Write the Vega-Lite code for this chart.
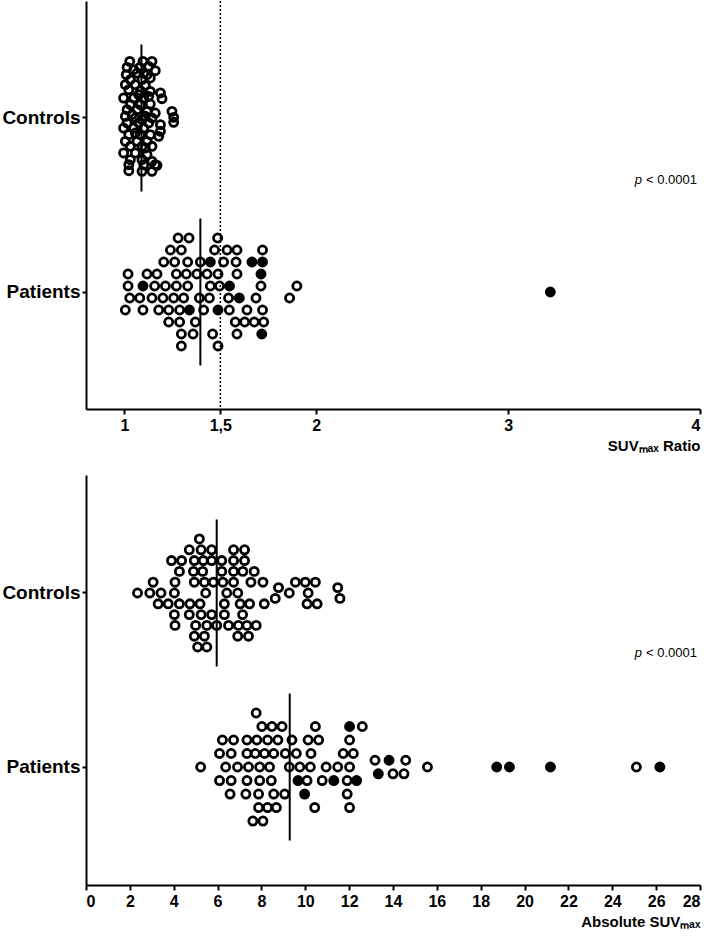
{
  "$schema": "https://vega.github.io/schema/vega-lite/v6.json",
  "background": "white",
  "padding": {"left": 0, "top": 0, "right": 8, "bottom": 0},
  "spacing": 22,
  "config": {
    "view": {"stroke": null},
    "font": "Liberation Sans",
    "axis": {"domainColor": "black", "domainWidth": 2, "tickColor": "black", "tickWidth": 2, "labelColor": "black", "labelFont": "Liberation Sans", "labelFontWeight": "bold", "grid": false, "titleColor": "black", "titleFont": "Liberation Sans", "titleFontWeight": "bold"}
  },
  "datasets": {
    "ratio": [
      {"group":"Controls","value":1.028,"lane":-9.44,"filled":0},{"group":"Controls","value":1.097,"lane":-9.44,"filled":0},{"group":"Controls","value":1.144,"lane":-9.44,"filled":0},
      {"group":"Controls","value":1.014,"lane":-8.44,"filled":0},{"group":"Controls","value":1.080,"lane":-8.44,"filled":0},{"group":"Controls","value":1.127,"lane":-8.61,"filled":0},{"group":"Controls","value":1.161,"lane":-7.89,"filled":0},{"group":"Controls","value":1.049,"lane":-8.06,"filled":0},
      {"group":"Controls","value":1.010,"lane":-7.22,"filled":0},{"group":"Controls","value":1.066,"lane":-7.5,"filled":0},{"group":"Controls","value":1.118,"lane":-7.22,"filled":0},{"group":"Controls","value":1.101,"lane":-7.5,"filled":0},
      {"group":"Controls","value":1.031,"lane":-6.39,"filled":0},{"group":"Controls","value":1.092,"lane":-6.39,"filled":0},{"group":"Controls","value":1.135,"lane":-6.67,"filled":0},
      {"group":"Controls","value":1.005,"lane":-5.56,"filled":0},{"group":"Controls","value":1.057,"lane":-5.56,"filled":0},{"group":"Controls","value":1.109,"lane":-5.44,"filled":0},
      {"group":"Controls","value":1.023,"lane":-4.72,"filled":0},{"group":"Controls","value":1.083,"lane":-4.56,"filled":0},{"group":"Controls","value":1.135,"lane":-4.44,"filled":0},{"group":"Controls","value":1.188,"lane":-4.17,"filled":0},{"group":"Controls","value":1.196,"lane":-3.22,"filled":0},
      {"group":"Controls","value":0.996,"lane":-3.33,"filled":0},{"group":"Controls","value":1.049,"lane":-3.33,"filled":0},{"group":"Controls","value":1.101,"lane":-3.33,"filled":0},{"group":"Controls","value":1.075,"lane":-3.89,"filled":0},{"group":"Controls","value":1.127,"lane":-3.61,"filled":0},
      {"group":"Controls","value":1.031,"lane":-2.22,"filled":0},{"group":"Controls","value":1.083,"lane":-2.22,"filled":0},{"group":"Controls","value":1.135,"lane":-2.33,"filled":0},
      {"group":"Controls","value":1.014,"lane":-1.39,"filled":0},{"group":"Controls","value":1.066,"lane":-1.39,"filled":0},{"group":"Controls","value":1.118,"lane":-1.11,"filled":0},{"group":"Controls","value":1.161,"lane":-0.83,"filled":0},{"group":"Controls","value":1.248,"lane":-1.11,"filled":0},
      {"group":"Controls","value":1.005,"lane":-0.28,"filled":0},{"group":"Controls","value":1.057,"lane":0,"filled":0},{"group":"Controls","value":1.109,"lane":-0.28,"filled":0},{"group":"Controls","value":1.144,"lane":0,"filled":0},{"group":"Controls","value":1.040,"lane":-0.56,"filled":0},{"group":"Controls","value":1.257,"lane":-0.11,"filled":0},
      {"group":"Controls","value":1.014,"lane":0.83,"filled":0},{"group":"Controls","value":1.075,"lane":0.83,"filled":0},{"group":"Controls","value":1.127,"lane":0.83,"filled":0},{"group":"Controls","value":1.188,"lane":1.11,"filled":0},{"group":"Controls","value":1.092,"lane":0.28,"filled":0},{"group":"Controls","value":1.257,"lane":0.72,"filled":0},
      {"group":"Controls","value":0.996,"lane":1.67,"filled":0},{"group":"Controls","value":1.049,"lane":1.67,"filled":0},{"group":"Controls","value":1.101,"lane":1.67,"filled":0},{"group":"Controls","value":1.188,"lane":2.22,"filled":0},
      {"group":"Controls","value":1.023,"lane":2.78,"filled":0},{"group":"Controls","value":1.083,"lane":2.78,"filled":0},{"group":"Controls","value":1.135,"lane":2.78,"filled":0},{"group":"Controls","value":1.179,"lane":3.06,"filled":0},{"group":"Controls","value":1.057,"lane":2.5,"filled":0},
      {"group":"Controls","value":1.005,"lane":3.89,"filled":0},{"group":"Controls","value":1.066,"lane":3.89,"filled":0},{"group":"Controls","value":1.118,"lane":3.89,"filled":0},
      {"group":"Controls","value":1.031,"lane":4.72,"filled":0},{"group":"Controls","value":1.092,"lane":4.72,"filled":0},{"group":"Controls","value":1.144,"lane":4.72,"filled":0},{"group":"Controls","value":1.109,"lane":5.0,"filled":0},
      {"group":"Controls","value":0.996,"lane":5.83,"filled":0},{"group":"Controls","value":1.057,"lane":5.83,"filled":0},{"group":"Controls","value":1.118,"lane":6.11,"filled":0},
      {"group":"Controls","value":1.031,"lane":6.94,"filled":0},{"group":"Controls","value":1.092,"lane":6.94,"filled":0},{"group":"Controls","value":1.144,"lane":7.22,"filled":0},{"group":"Controls","value":1.161,"lane":7.78,"filled":0},
      {"group":"Controls","value":1.023,"lane":7.78,"filled":0},{"group":"Controls","value":1.101,"lane":7.78,"filled":0},{"group":"Controls","value":1.170,"lane":7.89,"filled":0},
      {"group":"Controls","value":1.023,"lane":8.78,"filled":0},{"group":"Controls","value":1.092,"lane":8.89,"filled":0},{"group":"Controls","value":1.144,"lane":8.89,"filled":0},

      {"group":"Patients","value":1.280,"lane":-9,"filled":0},{"group":"Patients","value":1.337,"lane":-9,"filled":0},{"group":"Patients","value":1.486,"lane":-9,"filled":0},
      {"group":"Patients","value":1.240,"lane":-7,"filled":0},{"group":"Patients","value":1.297,"lane":-7,"filled":0},{"group":"Patients","value":1.470,"lane":-7,"filled":0},{"group":"Patients","value":1.535,"lane":-7,"filled":0},{"group":"Patients","value":1.587,"lane":-7,"filled":0},{"group":"Patients","value":1.720,"lane":-7,"filled":0},
      {"group":"Patients","value":1.205,"lane":-5,"filled":0},{"group":"Patients","value":1.262,"lane":-5,"filled":0},{"group":"Patients","value":1.330,"lane":-5,"filled":0},{"group":"Patients","value":1.396,"lane":-5,"filled":0},{"group":"Patients","value":1.448,"lane":-5,"filled":1},{"group":"Patients","value":1.517,"lane":-5,"filled":0},{"group":"Patients","value":1.582,"lane":-5,"filled":0},{"group":"Patients","value":1.665,"lane":-5,"filled":1},{"group":"Patients","value":1.720,"lane":-5,"filled":1},
      {"group":"Patients","value":1.019,"lane":-3,"filled":0},{"group":"Patients","value":1.118,"lane":-3,"filled":0},{"group":"Patients","value":1.170,"lane":-3,"filled":0},{"group":"Patients","value":1.271,"lane":-3,"filled":0},{"group":"Patients","value":1.323,"lane":-3,"filled":0},{"group":"Patients","value":1.378,"lane":-3,"filled":0},{"group":"Patients","value":1.431,"lane":-3,"filled":0},{"group":"Patients","value":1.488,"lane":-3,"filled":0},{"group":"Patients","value":1.587,"lane":-3,"filled":0},{"group":"Patients","value":1.712,"lane":-3,"filled":1},
      {"group":"Patients","value":1.019,"lane":-1,"filled":0},{"group":"Patients","value":1.097,"lane":-1,"filled":1},{"group":"Patients","value":1.158,"lane":-1,"filled":0},{"group":"Patients","value":1.214,"lane":-1,"filled":0},{"group":"Patients","value":1.271,"lane":-1,"filled":0},{"group":"Patients","value":1.330,"lane":-1,"filled":0},{"group":"Patients","value":1.448,"lane":-1,"filled":0},{"group":"Patients","value":1.496,"lane":-1,"filled":0},{"group":"Patients","value":1.548,"lane":-1,"filled":1},{"group":"Patients","value":1.712,"lane":-1,"filled":0},{"group":"Patients","value":1.899,"lane":-1,"filled":0},
      {"group":"Patients","value":1.028,"lane":1,"filled":0},{"group":"Patients","value":1.080,"lane":1,"filled":0},{"group":"Patients","value":1.144,"lane":1,"filled":0},{"group":"Patients","value":1.201,"lane":1,"filled":0},{"group":"Patients","value":1.257,"lane":1,"filled":0},{"group":"Patients","value":1.309,"lane":1,"filled":0},{"group":"Patients","value":1.391,"lane":1,"filled":0},{"group":"Patients","value":1.443,"lane":1,"filled":0},{"group":"Patients","value":1.543,"lane":1,"filled":0},{"group":"Patients","value":1.599,"lane":1,"filled":1},{"group":"Patients","value":1.686,"lane":1,"filled":0},{"group":"Patients","value":1.861,"lane":1,"filled":0},
      {"group":"Patients","value":1.005,"lane":3,"filled":0},{"group":"Patients","value":1.097,"lane":3,"filled":0},{"group":"Patients","value":1.179,"lane":3,"filled":0},{"group":"Patients","value":1.231,"lane":3,"filled":0},{"group":"Patients","value":1.288,"lane":3,"filled":0},{"group":"Patients","value":1.339,"lane":3,"filled":1},{"group":"Patients","value":1.413,"lane":3,"filled":0},{"group":"Patients","value":1.488,"lane":3,"filled":1},{"group":"Patients","value":1.547,"lane":3,"filled":0},{"group":"Patients","value":1.639,"lane":3,"filled":0},{"group":"Patients","value":1.720,"lane":3,"filled":0},
      {"group":"Patients","value":1.231,"lane":5,"filled":0},{"group":"Patients","value":1.288,"lane":5,"filled":0},{"group":"Patients","value":1.370,"lane":5,"filled":0},{"group":"Patients","value":1.578,"lane":5,"filled":0},{"group":"Patients","value":1.627,"lane":5,"filled":0},{"group":"Patients","value":1.677,"lane":5,"filled":0},{"group":"Patients","value":1.726,"lane":5,"filled":0},
      {"group":"Patients","value":1.297,"lane":7,"filled":0},{"group":"Patients","value":1.358,"lane":7,"filled":0},{"group":"Patients","value":1.460,"lane":7,"filled":0},{"group":"Patients","value":1.587,"lane":7,"filled":0},{"group":"Patients","value":1.716,"lane":7,"filled":1},
      {"group":"Patients","value":1.297,"lane":9,"filled":0},{"group":"Patients","value":1.488,"lane":9,"filled":0},
      {"group":"Patients","value":3.22,"lane":0,"filled":1}
    ],
    "absolute": [
      {"group":"Controls","value":5.17,"lane":-5,"filled":0},
      {"group":"Controls","value":4.71,"lane":-4,"filled":0},{"group":"Controls","value":5.25,"lane":-4,"filled":0},{"group":"Controls","value":5.73,"lane":-4,"filled":0},{"group":"Controls","value":6.73,"lane":-4,"filled":0},{"group":"Controls","value":7.23,"lane":-4,"filled":0},
      {"group":"Controls","value":3.90,"lane":-3,"filled":0},{"group":"Controls","value":4.36,"lane":-3,"filled":0},{"group":"Controls","value":4.94,"lane":-3,"filled":0},{"group":"Controls","value":5.35,"lane":-3,"filled":0},{"group":"Controls","value":5.73,"lane":-3,"filled":0},{"group":"Controls","value":6.19,"lane":-3,"filled":0},{"group":"Controls","value":6.73,"lane":-3,"filled":0},{"group":"Controls","value":7.23,"lane":-3,"filled":0},
      {"group":"Controls","value":4.26,"lane":-2,"filled":0},{"group":"Controls","value":4.90,"lane":-2,"filled":0},{"group":"Controls","value":5.32,"lane":-2,"filled":0},{"group":"Controls","value":6.19,"lane":-2,"filled":0},{"group":"Controls","value":6.73,"lane":-2,"filled":0},{"group":"Controls","value":7.15,"lane":-2,"filled":0},{"group":"Controls","value":7.67,"lane":-2,"filled":0},
      {"group":"Controls","value":3.06,"lane":-1,"filled":0},{"group":"Controls","value":4.06,"lane":-1,"filled":0},{"group":"Controls","value":4.94,"lane":-1,"filled":0},{"group":"Controls","value":5.40,"lane":-1,"filled":0},{"group":"Controls","value":5.81,"lane":-1,"filled":0},{"group":"Controls","value":6.24,"lane":-1,"filled":0},{"group":"Controls","value":6.73,"lane":-1,"filled":0},{"group":"Controls","value":7.52,"lane":-1,"filled":0},{"group":"Controls","value":8.07,"lane":-1,"filled":0},{"group":"Controls","value":9.55,"lane":-1,"filled":0},{"group":"Controls","value":10.00,"lane":-1,"filled":0},{"group":"Controls","value":10.46,"lane":-1,"filled":0},
      {"group":"Controls","value":8.78,"lane":-0.5,"filled":0},{"group":"Controls","value":11.48,"lane":-0.5,"filled":0},
      {"group":"Controls","value":2.35,"lane":0,"filled":0},{"group":"Controls","value":2.91,"lane":0,"filled":0},{"group":"Controls","value":3.42,"lane":0,"filled":0},{"group":"Controls","value":4.03,"lane":0,"filled":0},{"group":"Controls","value":5.46,"lane":0,"filled":0},{"group":"Controls","value":6.42,"lane":0,"filled":0},{"group":"Controls","value":6.92,"lane":0,"filled":0},{"group":"Controls","value":9.27,"lane":0,"filled":0},{"group":"Controls","value":10.13,"lane":0,"filled":0},
      {"group":"Controls","value":8.63,"lane":0.5,"filled":0},{"group":"Controls","value":11.58,"lane":0.5,"filled":0},
      {"group":"Controls","value":3.29,"lane":1,"filled":0},{"group":"Controls","value":3.75,"lane":1,"filled":0},{"group":"Controls","value":4.26,"lane":1,"filled":0},{"group":"Controls","value":4.74,"lane":1,"filled":0},{"group":"Controls","value":5.20,"lane":1,"filled":0},{"group":"Controls","value":6.31,"lane":1,"filled":0},{"group":"Controls","value":7.03,"lane":1,"filled":0},{"group":"Controls","value":7.46,"lane":1,"filled":0},{"group":"Controls","value":8.13,"lane":1,"filled":0},{"group":"Controls","value":10.08,"lane":1,"filled":0},{"group":"Controls","value":10.54,"lane":1,"filled":0},
      {"group":"Controls","value":4.03,"lane":2,"filled":0},{"group":"Controls","value":4.71,"lane":2,"filled":0},{"group":"Controls","value":5.25,"lane":2,"filled":0},{"group":"Controls","value":5.73,"lane":2,"filled":0},{"group":"Controls","value":6.31,"lane":2,"filled":0},{"group":"Controls","value":7.14,"lane":2,"filled":0},
      {"group":"Controls","value":4.06,"lane":3,"filled":0},{"group":"Controls","value":5.00,"lane":3,"filled":0},{"group":"Controls","value":5.51,"lane":3,"filled":0},{"group":"Controls","value":5.96,"lane":3,"filled":0},{"group":"Controls","value":6.50,"lane":3,"filled":0},{"group":"Controls","value":6.95,"lane":3,"filled":0},{"group":"Controls","value":7.34,"lane":3,"filled":0},{"group":"Controls","value":7.76,"lane":3,"filled":0},
      {"group":"Controls","value":4.94,"lane":4,"filled":0},{"group":"Controls","value":5.40,"lane":4,"filled":0},{"group":"Controls","value":6.92,"lane":4,"filled":0},{"group":"Controls","value":7.41,"lane":4,"filled":0},
      {"group":"Controls","value":5.09,"lane":5,"filled":0},{"group":"Controls","value":5.51,"lane":5,"filled":0},

      {"group":"Patients","value":7.76,"lane":-4,"filled":0},
      {"group":"Patients","value":8.02,"lane":-3,"filled":0},{"group":"Patients","value":8.48,"lane":-3,"filled":0},{"group":"Patients","value":8.94,"lane":-3,"filled":0},{"group":"Patients","value":10.46,"lane":-3,"filled":0},{"group":"Patients","value":12.02,"lane":-3,"filled":1},{"group":"Patients","value":12.60,"lane":-3,"filled":0},
      {"group":"Patients","value":6.22,"lane":-2,"filled":0},{"group":"Patients","value":6.73,"lane":-2,"filled":0},{"group":"Patients","value":7.34,"lane":-2,"filled":0},{"group":"Patients","value":7.79,"lane":-2,"filled":0},{"group":"Patients","value":8.28,"lane":-2,"filled":0},{"group":"Patients","value":8.75,"lane":-2,"filled":0},{"group":"Patients","value":9.39,"lane":-2,"filled":0},{"group":"Patients","value":10.13,"lane":-2,"filled":0},{"group":"Patients","value":10.61,"lane":-2,"filled":0},{"group":"Patients","value":12.02,"lane":-2,"filled":0},
      {"group":"Patients","value":6.09,"lane":-1,"filled":0},{"group":"Patients","value":6.62,"lane":-1,"filled":0},{"group":"Patients","value":7.34,"lane":-1,"filled":0},{"group":"Patients","value":7.72,"lane":-1,"filled":0},{"group":"Patients","value":8.14,"lane":-1,"filled":0},{"group":"Patients","value":8.56,"lane":-1,"filled":0},{"group":"Patients","value":9.09,"lane":-1,"filled":0},{"group":"Patients","value":9.59,"lane":-1,"filled":0},{"group":"Patients","value":10.26,"lane":-1,"filled":0},{"group":"Patients","value":11.73,"lane":-1,"filled":0},{"group":"Patients","value":12.19,"lane":-1,"filled":0},
      {"group":"Patients","value":13.18,"lane":-0.5,"filled":0},{"group":"Patients","value":13.82,"lane":-0.5,"filled":1},{"group":"Patients","value":14.58,"lane":-0.5,"filled":0},
      {"group":"Patients","value":5.23,"lane":0,"filled":0},{"group":"Patients","value":6.37,"lane":0,"filled":0},{"group":"Patients","value":6.91,"lane":0,"filled":0},{"group":"Patients","value":7.41,"lane":0,"filled":0},{"group":"Patients","value":7.92,"lane":0,"filled":0},{"group":"Patients","value":8.37,"lane":0,"filled":0},{"group":"Patients","value":9.27,"lane":0,"filled":0},{"group":"Patients","value":9.75,"lane":0,"filled":0},{"group":"Patients","value":10.23,"lane":0,"filled":0},{"group":"Patients","value":10.95,"lane":0,"filled":0},{"group":"Patients","value":11.48,"lane":0,"filled":0},{"group":"Patients","value":12.02,"lane":0,"filled":0},{"group":"Patients","value":15.57,"lane":0,"filled":0},{"group":"Patients","value":18.73,"lane":0,"filled":1},{"group":"Patients","value":19.31,"lane":0,"filled":1},{"group":"Patients","value":21.18,"lane":0,"filled":1},{"group":"Patients","value":25.10,"lane":0,"filled":0},{"group":"Patients","value":26.17,"lane":0,"filled":1},
      {"group":"Patients","value":13.33,"lane":0.5,"filled":1},{"group":"Patients","value":14.00,"lane":0.5,"filled":0},{"group":"Patients","value":14.50,"lane":0.5,"filled":0},
      {"group":"Patients","value":6.09,"lane":1,"filled":0},{"group":"Patients","value":6.62,"lane":1,"filled":0},{"group":"Patients","value":7.34,"lane":1,"filled":0},{"group":"Patients","value":7.92,"lane":1,"filled":0},{"group":"Patients","value":8.45,"lane":1,"filled":0},{"group":"Patients","value":9.67,"lane":1,"filled":1},{"group":"Patients","value":10.08,"lane":1,"filled":0},{"group":"Patients","value":10.77,"lane":1,"filled":0},{"group":"Patients","value":11.30,"lane":1,"filled":1},{"group":"Patients","value":11.91,"lane":1,"filled":0},{"group":"Patients","value":12.34,"lane":1,"filled":1},
      {"group":"Patients","value":6.57,"lane":2,"filled":0},{"group":"Patients","value":7.29,"lane":2,"filled":0},{"group":"Patients","value":7.87,"lane":2,"filled":0},{"group":"Patients","value":8.56,"lane":2,"filled":0},{"group":"Patients","value":9.06,"lane":2,"filled":0},{"group":"Patients","value":9.97,"lane":2,"filled":1},{"group":"Patients","value":11.91,"lane":2,"filled":0},
      {"group":"Patients","value":7.87,"lane":3,"filled":0},{"group":"Patients","value":8.28,"lane":3,"filled":0},{"group":"Patients","value":8.68,"lane":3,"filled":0},{"group":"Patients","value":10.43,"lane":3,"filled":0},{"group":"Patients","value":12.02,"lane":3,"filled":0},
      {"group":"Patients","value":7.61,"lane":4,"filled":0},{"group":"Patients","value":8.07,"lane":4,"filled":0}
    ],
    "medRatio": [{"group":"Controls","value":1.089},{"group":"Patients","value":1.396}],
    "medAbs": [{"group":"Controls","value":5.96},{"group":"Patients","value":9.29}],
    "noteRatio": [{"group":"Controls","value":4}],
    "noteAbs": [{"group":"Controls","value":28}]
  },
  "vconcat": [
    {
      "width": 614,
      "height": 408,
      "layer": [
        {
          "data": {"values": [{"cutoff": 1.5}]},
          "mark": {"type": "rule", "strokeDash": [2, 2], "strokeWidth": 1.5, "color": "black"},
          "encoding": {"x": {"field": "cutoff", "type": "quantitative", "scale": {"domain": [0.8, 4], "nice": false, "zero": false}, "axis": {"values": [1, 1.5, 2, 3, 4], "labelExpr": "datum.value == 1.5 ? '1,5' : format(datum.value, 'd')", "labelFontSize": 16, "tickSize": 5, "labelPadding": 3, "title": "SUVₘₐₓ Ratio", "titleAnchor": "end", "titleFontSize": 15, "titlePadding": 5}}}
        },
        {
          "data": {"name": "medRatio"},
          "mark": {"type": "tick", "orient": "vertical", "size": 147, "thickness": 2, "color": "black", "opacity": 1},
          "encoding": {
            "x": {"field": "value", "type": "quantitative"},
            "y": {"field": "group", "type": "nominal", "sort": ["Controls", "Patients"], "scale": {"type": "band", "paddingInner": 0, "paddingOuter": 0.1724}, "axis": {"title": null, "labelFontSize": 19, "tickSize": 4, "labelPadding": 2, "minExtent": 86, "maxExtent": 86}}
          }
        },
        {
          "data": {"name": "ratio"},
          "mark": {"type": "point", "shape": "circle", "size": 66, "strokeWidth": 2.8, "stroke": "black", "filled": true, "opacity": 1},
          "encoding": {
            "x": {"field": "value", "type": "quantitative"},
            "y": {"field": "group", "type": "nominal", "sort": ["Controls", "Patients"]},
            "yOffset": {"field": "lane", "type": "quantitative", "scale": {"domain": [-14.5, 14.5], "nice": false, "zero": false}},
            "fill": {"condition": {"test": "datum.filled == 1", "value": "black"}, "value": "transparent"}
          }
        },
        {
          "data": {"name": "noteRatio"},
          "mark": {"type": "text", "text": "< 0.0001", "align": "right", "baseline": "middle", "dx": -3, "dy": 62, "fontSize": 13, "color": "black"},
          "encoding": {"x": {"field": "value", "type": "quantitative"}, "y": {"field": "group", "type": "nominal", "sort": ["Controls", "Patients"]}}
        },
        {
          "data": {"name": "noteRatio"},
          "mark": {"type": "text", "text": "p", "align": "right", "baseline": "middle", "dx": -58, "dy": 62, "fontSize": 13, "fontStyle": "italic", "color": "black"},
          "encoding": {"x": {"field": "value", "type": "quantitative"}, "y": {"field": "group", "type": "nominal", "sort": ["Controls", "Patients"]}}
        }
      ]
    },
    {
      "width": 614,
      "height": 410,
      "resolve": {"scale": {"yOffset": "independent"}},
      "layer": [
        {
          "data": {"name": "medAbs"},
          "mark": {"type": "tick", "orient": "vertical", "size": 147, "thickness": 2, "color": "black", "opacity": 1},
          "encoding": {
            "x": {"field": "value", "type": "quantitative", "scale": {"domain": [0, 28], "nice": false, "zero": true}, "axis": {"values": [0,1,2,3,4,5,6,7,8,9,10,11,12,13,14,15,16,17,18,19,20,21,22,23,24,25,26,27,28], "labelExpr": "datum.value % 2 == 0 ? format(datum.value, 'd') : ''", "labelFontSize": 16, "tickSize": {"condition": {"test": "datum.value % 2 == 1", "value": 3}, "value": 5}, "labelPadding": 3, "title": "Absolute SUVₘₐₓ", "titleAnchor": "end", "titleFontSize": 15, "titlePadding": 5}},
            "y": {"field": "group", "type": "nominal", "sort": ["Controls", "Patients"], "scale": {"type": "band", "paddingInner": 0, "paddingOuter": 0.178}, "axis": {"title": null, "labelFontSize": 19, "tickSize": 4, "labelPadding": 2, "minExtent": 86, "maxExtent": 86}}
          }
        },
        {
          "data": {"name": "absolute"},
          "transform": [{"filter": "datum.group == 'Controls'"}],
          "mark": {"type": "point", "shape": "circle", "size": 66, "strokeWidth": 2.8, "stroke": "black", "filled": true, "opacity": 1},
          "encoding": {
            "x": {"field": "value", "type": "quantitative"},
            "y": {"field": "group", "type": "nominal", "sort": ["Controls", "Patients"]},
            "yOffset": {"field": "lane", "type": "quantitative", "scale": {"domain": [-8.056, 8.056], "nice": false, "zero": false}},
            "fill": {"condition": {"test": "datum.filled == 1", "value": "black"}, "value": "transparent"}
          }
        },
        {
          "data": {"name": "absolute"},
          "transform": [{"filter": "datum.group == 'Patients'"}],
          "mark": {"type": "point", "shape": "circle", "size": 66, "strokeWidth": 2.8, "stroke": "black", "filled": true, "opacity": 1},
          "encoding": {
            "x": {"field": "value", "type": "quantitative"},
            "y": {"field": "group", "type": "nominal", "sort": ["Controls", "Patients"]},
            "yOffset": {"field": "lane", "type": "quantitative", "scale": {"domain": [-6.444, 6.444], "nice": false, "zero": false}},
            "fill": {"condition": {"test": "datum.filled == 1", "value": "black"}, "value": "transparent"}
          }
        },
        {
          "data": {"name": "noteAbs"},
          "mark": {"type": "text", "text": "< 0.0001", "align": "right", "baseline": "middle", "dx": -3, "dy": 60, "fontSize": 13, "color": "black"},
          "encoding": {"x": {"field": "value", "type": "quantitative"}, "y": {"field": "group", "type": "nominal", "sort": ["Controls", "Patients"]}}
        },
        {
          "data": {"name": "noteAbs"},
          "mark": {"type": "text", "text": "p", "align": "right", "baseline": "middle", "dx": -58, "dy": 60, "fontSize": 13, "fontStyle": "italic", "color": "black"},
          "encoding": {"x": {"field": "value", "type": "quantitative"}, "y": {"field": "group", "type": "nominal", "sort": ["Controls", "Patients"]}}
        }
      ]
    }
  ]
}
